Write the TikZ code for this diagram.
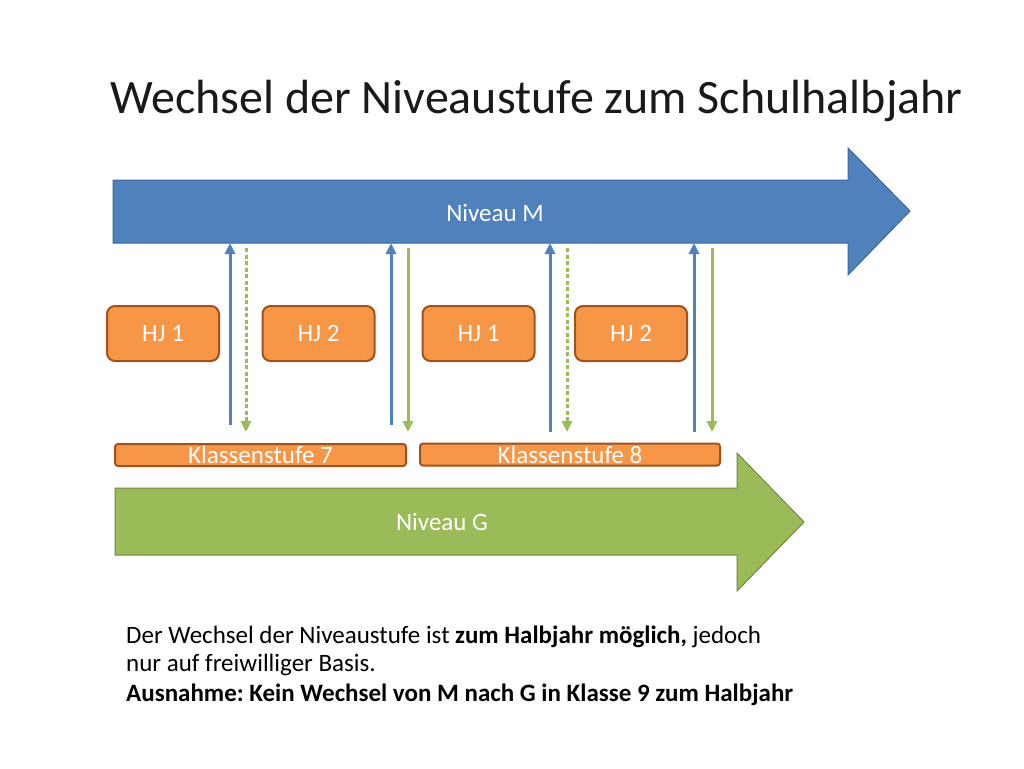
\documentclass[tikz,border=0pt]{standalone}
\usepackage{fontspec,tikz}
\setmainfont{Carlito}
\frenchspacing
\usetikzlibrary{arrows.meta}
\definecolor{blueM}{HTML}{4F81BD}
\definecolor{blueMline}{HTML}{3A679E}
\definecolor{greenG}{HTML}{9BBB59}
\definecolor{greenGline}{HTML}{71893F}
\definecolor{hjfill}{HTML}{F79646}
\definecolor{hjline}{HTML}{A0521A}

\begin{document}
\begin{tikzpicture}[x=1pt,y=-1pt,
  hjbox/.style={draw=hjline,fill=hjfill,line width=2pt,rounded corners=8pt,text=white,
    minimum width=112pt,minimum height=55pt,inner sep=0pt,font=\fontsize{25}{30}\selectfont},
  kbox/.style={draw=hjline,fill=hjfill,line width=2pt,rounded corners=3pt,text=white,
    minimum height=22pt,inner sep=0pt,font=\fontsize{25}{30}\selectfont},
  niveau/.style={text=white,inner sep=0pt,font=\fontsize{25}{30}\selectfont},
  uparrow/.style={draw=blueM,line width=3pt,-{Triangle[width=10pt,length=11pt]}},
  downarrow/.style={draw=greenG,line width=3pt,-{Triangle[width=10pt,length=11pt]}},
  voluntary/.style={dash pattern=on 4pt off 2.5pt}]
\path[use as bounding box,fill=white] (0,0) rectangle (1024,768);
\node[anchor=base west,inner sep=0pt,text=black!90,font=\fontsize{48}{56}\selectfont] (title) at (110,113) {Wechsel der Niveaustufe zum Schulhalbjahr};
% Niveau M
\draw[fill=blueM,draw=blueMline,line width=1pt] (113,180) -- (848,180) -- (848,148) -- (910,211) -- (848,275) -- (848,243) -- (113,243) -- cycle;
\node[niveau] (nivM) at (495,213) {Niveau M};
\coordinate (mBot) at (495,243);
\coordinate (mStart) at (495,248);
% Niveau G
\draw[fill=greenG,draw=greenGline,line width=1pt] (115,488) -- (737,488) -- (737,453) -- (804,522) -- (737,591) -- (737,555) -- (115,555) -- cycle;
\node[niveau] (nivG) at (442,522) {Niveau G};
% Halbjahre
\node[hjbox] (hj1a) at (163,333.5) {HJ 1};
\node[hjbox] (hj2a) at (318.5,333.5) {HJ 2};
\node[hjbox] (hj1b) at (478.5,333.5) {HJ 1};
\node[hjbox] (hj2b) at (631,333.5) {HJ 2};
% Klassenstufen
\node[kbox,minimum width=291pt] (ks7) at (260.5,455) {Klassenstufe 7};
\node[kbox,minimum width=300pt] (ks8) at (570,454.5) {Klassenstufe 8};
% Wechsel
\coordinate (up1) at (230,425);
\coordinate (up2) at (391,425);
\coordinate (up3) at (550,432);
\coordinate (up4) at (694,432);
\coordinate (dn1) at (246,432);
\coordinate (dn2) at (408,432);
\coordinate (dn3) at (567,432);
\coordinate (dn4) at (712,432);
\draw[uparrow] (up1) -- (up1 |- mBot);
\draw[uparrow] (up2) -- (up2 |- mBot);
\draw[uparrow] (up3) -- (up3 |- mBot);
\draw[uparrow] (up4) -- (up4 |- mBot);
\draw[downarrow,voluntary] (dn1 |- mStart) -- (dn1);
\draw[downarrow] (dn2 |- mStart) -- (dn2);
\draw[downarrow,voluntary] (dn3 |- mStart) -- (dn3);
\draw[downarrow] (dn4 |- mStart) -- (dn4);
% Hinweis
\node[anchor=base west,inner sep=0pt,font=\fontsize{25}{30}\selectfont] (note1) at (126,643) {Der Wechsel der Niveaustufe ist \textbf{zum Halbjahr möglich,} jedoch};
\node[anchor=base west,inner sep=0pt,font=\fontsize{25}{30}\selectfont] (note2) at (126,671) {nur auf freiwilliger Basis.};
\node[anchor=base west,inner sep=0pt,font=\fontsize{25}{30}\selectfont\bfseries] (note3) at (126,701) {Ausnahme: Kein Wechsel von M nach G in Klasse 9 zum Halbjahr};
\end{tikzpicture}
\end{document}
